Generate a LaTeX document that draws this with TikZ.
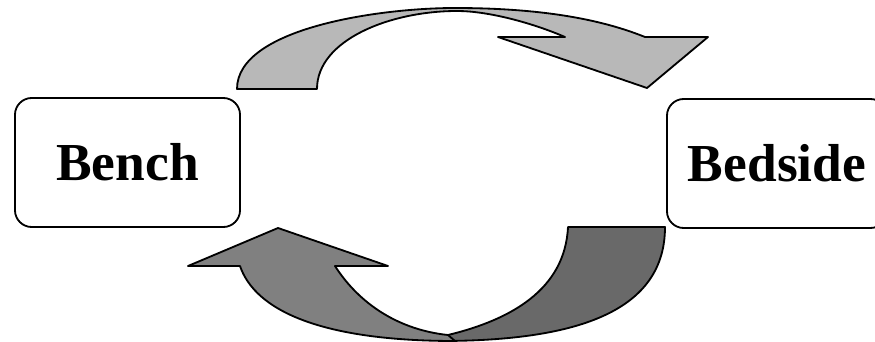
\documentclass[tikz,border=0pt]{standalone}
\usepackage{fontspec}
\setmainfont{Liberation Serif}
\usepackage{tikz}
\usetikzlibrary{calc}
\usepackage{xcolor}

\definecolor{dotgray}{RGB}{184,184,184}
\definecolor{frontgray}{RGB}{128,128,128}
\definecolor{backgray}{RGB}{105,105,105}

\tikzset{
  stage/.style={draw, rounded corners=0.42cm, minimum height=3.225cm, inner sep=0pt,
    font=\fontsize{38}{40}\selectfont\bfseries},
  band/.style={draw, line join=round}
}

\begin{document}
\begin{tikzpicture}[x=0.025cm, y=-0.025cm, line width=1.3pt]
        % Frame
        \path[use as bounding box] (0,0) rectangle (875,342);
        \clip (0,0) rectangle (875,342);

        % Boxes
        \node[stage, minimum width=5.625cm] (bench) at (127.5,162.5) {Bench};
        \node[stage, minimum width=5.5cm] (bedside) at (777,163.5) {Bedside};

        % Upper arrow head points
        \coordinate (UL) at (498,37);
        \coordinate (UR) at (708,37);
        \coordinate (UT) at (647,88);

        % Upper arrow, Bench to Bedside
        \draw[band, fill=dotgray] (237,89) .. controls (237,28) and (380,8) .. (455,8)
          .. controls (560,8) and (615,25) .. (645,37) -- (UR) -- (UT) -- (UL) -- (565,37)
          .. controls (535,24) and (490,11) .. (457,11)
          .. controls (390,11) and (317,40) .. (317,89) -- cycle;

        % Lower arrow head points
        \coordinate (LL) at (188,266);
        \coordinate (LR) at (388,266);
        \coordinate (LT) at (278,228);

        % Lower arrow, Bedside to Bench (back face, then front face)
        \draw[band, fill=backgray] (448,335) .. controls (510,320) and (565,290) .. (568,227)
          -- (665,227) .. controls (665,310) and (580,341) .. (440,341) -- cycle;
        \draw[band, fill=frontgray] (LT) -- (LR) -- (335,266)
          .. controls (360,305) and (400,330) .. (448,335) -- (455,341)
          .. controls (320,341) and (255,310) .. (240,266) -- (LL) -- cycle;
      \end{tikzpicture}
\end{document}
